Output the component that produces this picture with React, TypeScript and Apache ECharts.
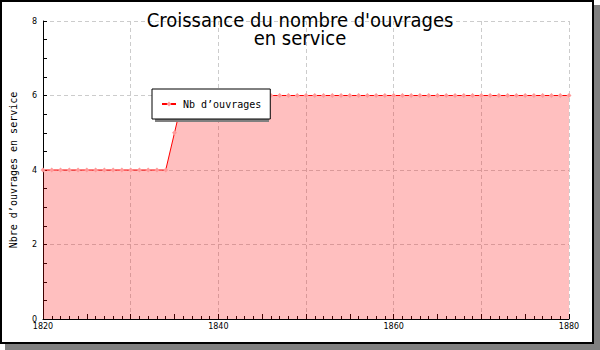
import React, { useEffect, useRef } from "react";
import * as echarts from "echarts";

const titleText = "Croissance du nombre d'ouvrages\nen service";
const yAxisName = "Nbre d’ouvrages en service";
const seriesName = "Nb d’ouvrages";
const years = [
  1820, 1821, 1822, 1823, 1824, 1825, 1826, 1827, 1828, 1829,
  1830, 1831, 1832, 1833, 1834, 1835, 1836, 1837, 1838, 1839,
  1840, 1841, 1842, 1843, 1844, 1845, 1846, 1847, 1848, 1849,
  1850, 1851, 1852, 1853, 1854, 1855, 1856, 1857, 1858, 1859,
  1860, 1861, 1862, 1863, 1864, 1865, 1866, 1867, 1868, 1869,
  1870, 1871, 1872, 1873, 1874, 1875, 1876, 1877, 1878, 1879,
  1880,
];
const values = [
  4, 4, 4, 4, 4, 4, 4, 4, 4, 4,
  4, 4, 4, 4, 4, 5, 6, 6, 6, 6,
  6, 6, 6, 6, 6, 6, 6, 6, 6, 6,
  6, 6, 6, 6, 6, 6, 6, 6, 6, 6,
  6, 6, 6, 6, 6, 6, 6, 6, 6, 6,
  6, 6, 6, 6, 6, 6, 6, 6, 6, 6,
  6,
];

const X_MIN = 1820;
const X_MAX = 1880;

export default function App() {
  const ref = useRef<HTMLDivElement>(null);
  useEffect(() => {
    if (!ref.current) return;
    const chart = echarts.init(ref.current, undefined, { renderer: "svg" });
    const grid = "#cccccc";
    const tickFont = { fontFamily: "DejaVu Sans", fontSize: 8, color: "#000" };
    chart.setOption({
      animation: false,
      backgroundColor: "transparent",
      graphic: [
        { type: "rect", z: -10, silent: true, shape: { x: 5, y: 5, width: 595, height: 345 }, style: { fill: "#808080" } },
        { type: "rect", z: -9, silent: true, shape: { x: 1, y: 1, width: 592, height: 342 }, style: { fill: "#ffffff", stroke: "#000", lineWidth: 2 } },
        { type: "rect", z: 5, silent: true, shape: { x: 155, y: 92, width: 114, height: 30 }, style: { fill: "#808080" } },
      ],
      title: {
        text: titleText,
        left: "center",
        top: 6,
        textStyle: {
          fontFamily: "DejaVu Sans Condensed, DejaVu Sans",
          fontSize: 20,
          fontWeight: "normal",
          lineHeight: 18,
          color: "#000",
        },
      },
      legend: {
        left: 152,
        top: 89,
        z: 10,
        padding: [10, 9],
        itemWidth: 14,
        itemHeight: 6,
        itemGap: 6,
        backgroundColor: "#ffffff",
        borderColor: "#000",
        borderWidth: 1,
        textStyle: { fontFamily: "DejaVu Sans Mono", fontSize: 10, color: "#000", padding: [0, 0, 0, 2] },
        data: [seriesName],
      },
      grid: { left: 41, right: 31, top: 21, bottom: 31 },
      xAxis: [
        {
          type: "value",
          position: "bottom",
          min: X_MIN,
          max: X_MAX,
          interval: 20,
          axisLine: { show: true, onZero: false, lineStyle: { color: "#000", width: 1 } },
          axisTick: { show: false },
          axisLabel: { ...tickFont, margin: 3, formatter: (v: number) => String(v) },
          splitLine: { show: false },
        },
        {
          type: "value",
          position: "bottom",
          min: X_MIN,
          max: X_MAX,
          interval: 10,
          axisLine: { show: false },
          axisTick: { show: false },
          axisLabel: { show: false },
          splitLine: { show: true, lineStyle: { color: grid, type: [4, 3], width: 1 } },
        },
        {
          type: "value",
          position: "bottom",
          min: X_MIN,
          max: X_MAX,
          interval: 5,
          axisLine: { show: false },
          axisTick: { show: true, inside: true, length: 5, lineStyle: { color: "#000" } },
          minorTick: { show: true, splitNumber: 5, length: 3, lineStyle: { color: "#000" } },
          axisLabel: { show: false },
          splitLine: { show: false },
        },
      ],
      yAxis: {
        type: "value",
        min: 0,
        max: 8,
        interval: 2,
        name: yAxisName,
        nameLocation: "middle",
        nameGap: 25,
        nameRotate: 90,
        nameTextStyle: { fontFamily: "DejaVu Sans Mono", fontSize: 10, color: "#000" },
        axisLine: { show: true, lineStyle: { color: "#000", width: 1 } },
        axisTick: { show: true, inside: true, length: 4, lineStyle: { color: "#000" } },
        minorTick: { show: true, splitNumber: 4, length: 4, lineStyle: { color: "#000" } },
        axisLabel: { ...tickFont, margin: 6 },
        splitLine: { show: true, lineStyle: { color: grid, type: [4, 3], width: 1 } },
      },
      series: [
        {
          name: seriesName,
          type: "line",
          xAxisIndex: 0,
          data: years.map((y, i) => [y, values[i]]),
          symbol: "diamond",
          symbolSize: 5,
          showSymbol: true,
          itemStyle: { color: "#ff9a9a", borderWidth: 0 },
          lineStyle: { color: "#ff0000", width: 1 },
          areaStyle: { color: "#ff0000", opacity: 0.25 },
          z: 3,
        },
      ],
    });
    return () => chart.dispose();
  }, []);
  return <div ref={ref} style={{ position: "absolute", left: 0, top: 0, width: 600, height: 350 }} />;
}
